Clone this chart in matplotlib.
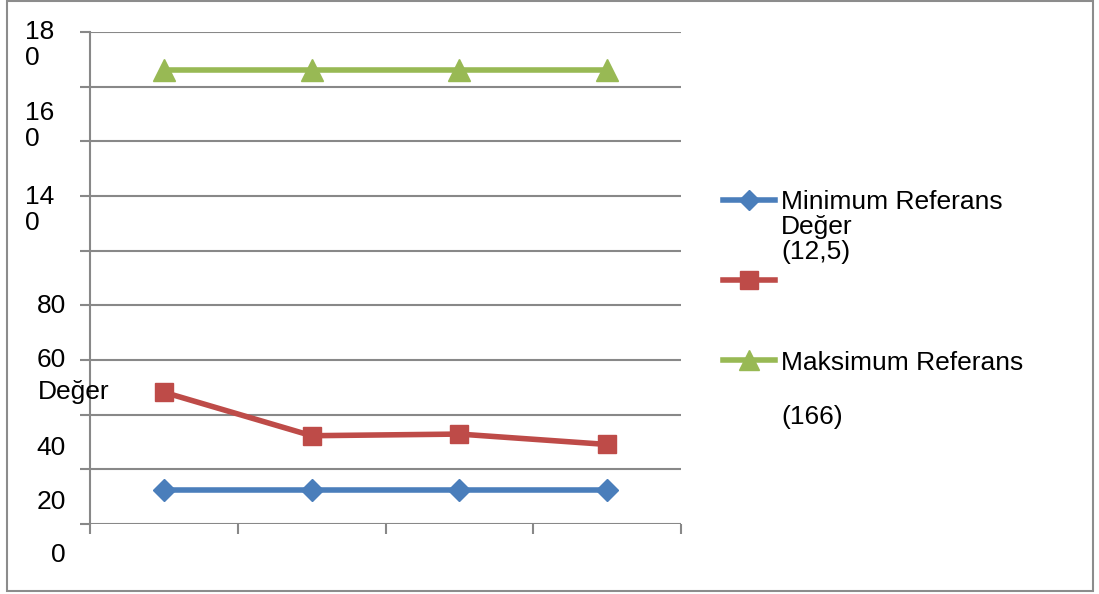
import numpy as np
import matplotlib
matplotlib.use("Agg")
import matplotlib.pyplot as plt
from matplotlib.lines import Line2D
from matplotlib.patches import Rectangle

plt.rcParams['font.family'] = ['Liberation Sans', 'DejaVu Sans']

# four measurement points along the x axis
categories = [1, 2, 3, 4]
min_ref = [12.5, 12.5, 12.5, 12.5]
measured = [48.2, 32.3, 32.9, 29.1]
max_ref = [166, 166, 166, 166]

y_ticks = np.arange(0, 181, 20)
# broken tick label text as it gets wrapped in the narrow label column
y_labels = [("18\n0", 180), ("16\n0", 160), ("14\n0", 140), ("80", 80),
            ("60", 60), ("40", 40), ("20", 20), ("0", 0)]
legend_labels = ["Minimum Referans\nDeğer\n(12,5)", "", "Maksimum Referans\n\n(166)"]

BLUE = '#4A7EBB'
RED = '#BE4B48'
GREEN = '#98B954'
GRID = '#888888'
FS = 19

W, H = 1099, 594
fig = plt.figure(figsize=(W / 100, H / 100), dpi=100)


def fx(px):
    return px / W


def fy(py):
    return 1 - py / H


ax = fig.add_axes([fx(90), fy(524), fx(681) - fx(90), fy(32) - fy(524)])
ax.set_xlim(0.5, 4.5)
ax.set_ylim(0, 180)

ax.plot(categories, min_ref, color=BLUE, lw=4, marker='D', ms=11.5, zorder=3)
ax.plot(categories, measured, color=RED, lw=4, marker='s', ms=13, zorder=3)
ax.plot(categories, max_ref, color=GREEN, lw=4, marker='^', ms=16, zorder=3)

ax.set_yticks(y_ticks)
ax.yaxis.grid(True, color=GRID, lw=1.5)
ax.set_axisbelow(True)
ax.set_xticks([0.5, 1.5, 2.5, 3.5, 4.5])
ax.tick_params(axis='both', length=7, width=1.5, color=GRID, labelleft=False, labelbottom=False)
for side in ['top', 'right']:
    ax.spines[side].set_visible(False)
ax.spines['bottom'].set_visible(False)
ax.spines['left'].set_color(GRID)
ax.spines['left'].set_linewidth(1.5)

# y tick labels, pushed out of place by the wrapping
label_pos = {180: 45, 160: 126, 140: 210, 80: 306, 60: 360, 40: 448, 20: 502, 0: 555}
for text, val in y_labels:
    if "\n" in text:
        fig.text(fx(25), fy(label_pos[val]), text, ha='left', va='center',
                 fontsize=FS, linespacing=1.12)
    else:
        fig.text(fx(66), fy(label_pos[val]), text, ha='right', va='center', fontsize=FS)
fig.text(fx(38), fy(392), "Değer", ha='left', va='center', fontsize=FS)

# legend entries
handles = [(BLUE, 'D', 10.5, 200), (RED, 's', 12.5, 280), (GREEN, '^', 15, 360)]
for (color, marker, ms, py) in handles:
    fig.add_artist(Line2D([fx(723), fx(775)], [fy(py), fy(py)], color=color, lw=4,
                          transform=fig.transFigure))
    fig.add_artist(Line2D([fx(749)], [fy(py)], color=color, marker=marker, ms=ms,
                          lw=0, transform=fig.transFigure))
fig.text(fx(781), fy(227), legend_labels[0], ha='left', va='center', fontsize=FS, linespacing=1.03)
fig.text(fx(781), fy(390), legend_labels[2], ha='left', va='center', fontsize=FS, linespacing=1.14)

# chart border
fig.add_artist(Rectangle((fx(7), fy(591)), fx(1093) - fx(7), fy(1) - fy(591),
                         fill=False, edgecolor='#8c8c8c', lw=1.5, transform=fig.transFigure))

fig.savefig("out.png", dpi=100)
